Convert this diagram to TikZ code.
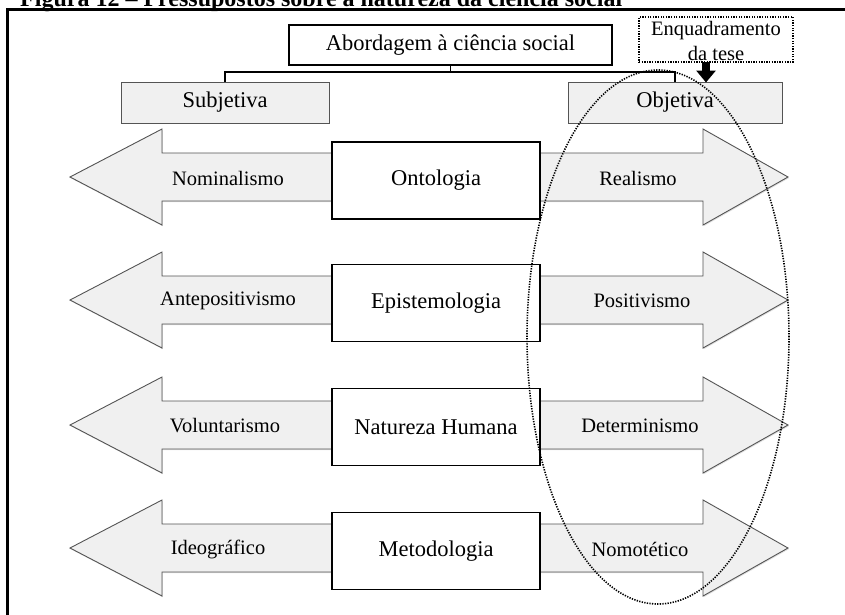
\documentclass[tikz,border=0pt]{standalone}
\usepackage{fontspec}
\setmainfont{Liberation Serif}
\usetikzlibrary{arrows.meta,shadows}

\definecolor{arrowfill}{gray}{0.94}
\definecolor{arrowline}{gray}{0.33}

\tikzset{
  arrowshape/.style={fill=arrowfill, draw=arrowline, line width=0.9pt, line join=miter,
    drop shadow={shadow xshift=0.8pt, shadow yshift=-1.2pt, opacity=0.25}},
  centerbox/.style={draw=black, fill=white, line width=1.8pt, inner sep=0pt,
    minimum width=208pt, minimum height=77pt, font=\fontsize{22.5}{26}\selectfont},
  sidebox/.style={draw=arrowline, fill=arrowfill, line width=0.9pt, inner sep=0pt,
    minimum height=41pt, font=\fontsize{22.5}{26}\selectfont},
  toplabel/.style={draw=black, fill=white, line width=1.8pt, inner sep=0pt,
    minimum width=323pt, minimum height=40pt, font=\fontsize{22.5}{26}\selectfont},
  sidelabel/.style={font=\fontsize{20.5}{24}\selectfont, inner sep=0pt},
  notebox/.style={draw=black, line width=1.5pt, dash pattern=on 1.3pt off 1.3pt,
    inner sep=0pt, minimum width=154pt, minimum height=45pt},
  notetext/.style={anchor=base, inner sep=0pt, font=\fontsize{20.5}{24}\selectfont},
  link/.style={draw=black, line width=1.8pt},
  zone/.style={draw=black, line width=1.6pt, dash pattern=on 1.3pt off 1.3pt},
}

% double-headed band behind each central box: #1 = vertical centre
\newcommand{\rowarrow}[1]{%
  \draw[arrowshape] (70,#1) -- (162,#1-48) -- (162,#1-24) -- (703,#1-24)
    -- (703,#1-48) -- (788,#1) -- (703,#1+48) -- (703,#1+24) -- (162,#1+24)
    -- (162,#1+48) -- cycle;}

\begin{document}
\begin{tikzpicture}[x=1pt,y=-1pt]
\useasboundingbox (0,0) rectangle (845,614);
\clip (0,0) rectangle (845,614);
\fill[white] (0,0) rectangle (845,614);

% caption above the frame
\node[anchor=base west, inner sep=0pt, font=\bfseries\fontsize{24}{28}\selectfont]
  (caption) at (20,6.5) {Figura 12 – Pressupostos sobre a natureza da ciência social};

% frame
\draw[line width=3pt] (7,620) -- (7,9) -- (850,9);

% heading and the two approaches
\node[toplabel] (abord) at (450.5,45) {Abordagem à ciência social};
\node[sidebox, minimum width=208pt] (subj) at (225,102.5) {Subjetiva};
\node[sidebox, minimum width=214pt] (obj) at (675,102.5) {Objetiva};
\coordinate (fork) at (450.5,72);
\draw[link] (abord.south) -- (fork);
\draw[link] (fork) -| (subj.north);
\draw[link] (fork) -| (obj.north);

% note box with its pointer
\node[notebox] (enq) at (716,39.5) {};
\node[notetext] (enq1) at (716,35) {Enquadramento};
\node[notetext] (enq2) at (716,60.5) {da tese};
\coordinate (ptrtop) at (706,62);
\coordinate (ptrend) at (706,82.5);
\draw[line width=8pt, -{Triangle[width=19pt,length=12pt]}] (ptrtop) -- (ptrend);

% rows
\rowarrow{177}
\node[centerbox] (ont) at (436,180.5) {Ontologia};
\node[sidelabel] (nom) at (228,178) {Nominalismo};
\node[sidelabel] (rea) at (638,178) {Realismo};

\rowarrow{300}
\node[centerbox] (epi) at (436,303) {Epistemologia};
\node[sidelabel] (ant) at (228,301) {Antepositivismo};
\node[sidelabel] (pos) at (642,301) {Positivismo};

\rowarrow{425}
\node[centerbox] (nat) at (436,427) {Natureza Humana};
\node[sidelabel] (vol) at (225,426) {Voluntarismo};
\node[sidelabel] (det) at (640,426) {Determinismo};

\rowarrow{548}
\node[centerbox] (met) at (436,551) {Metodologia};
\node[sidelabel] (ide) at (218,549) {Ideográfico};
\node[sidelabel] (nmt) at (640,549) {Nomotético};

% dotted zone around the objective side
\draw[zone] (658,337) ellipse [x radius=131pt, y radius=267pt];
\end{tikzpicture}
\end{document}
